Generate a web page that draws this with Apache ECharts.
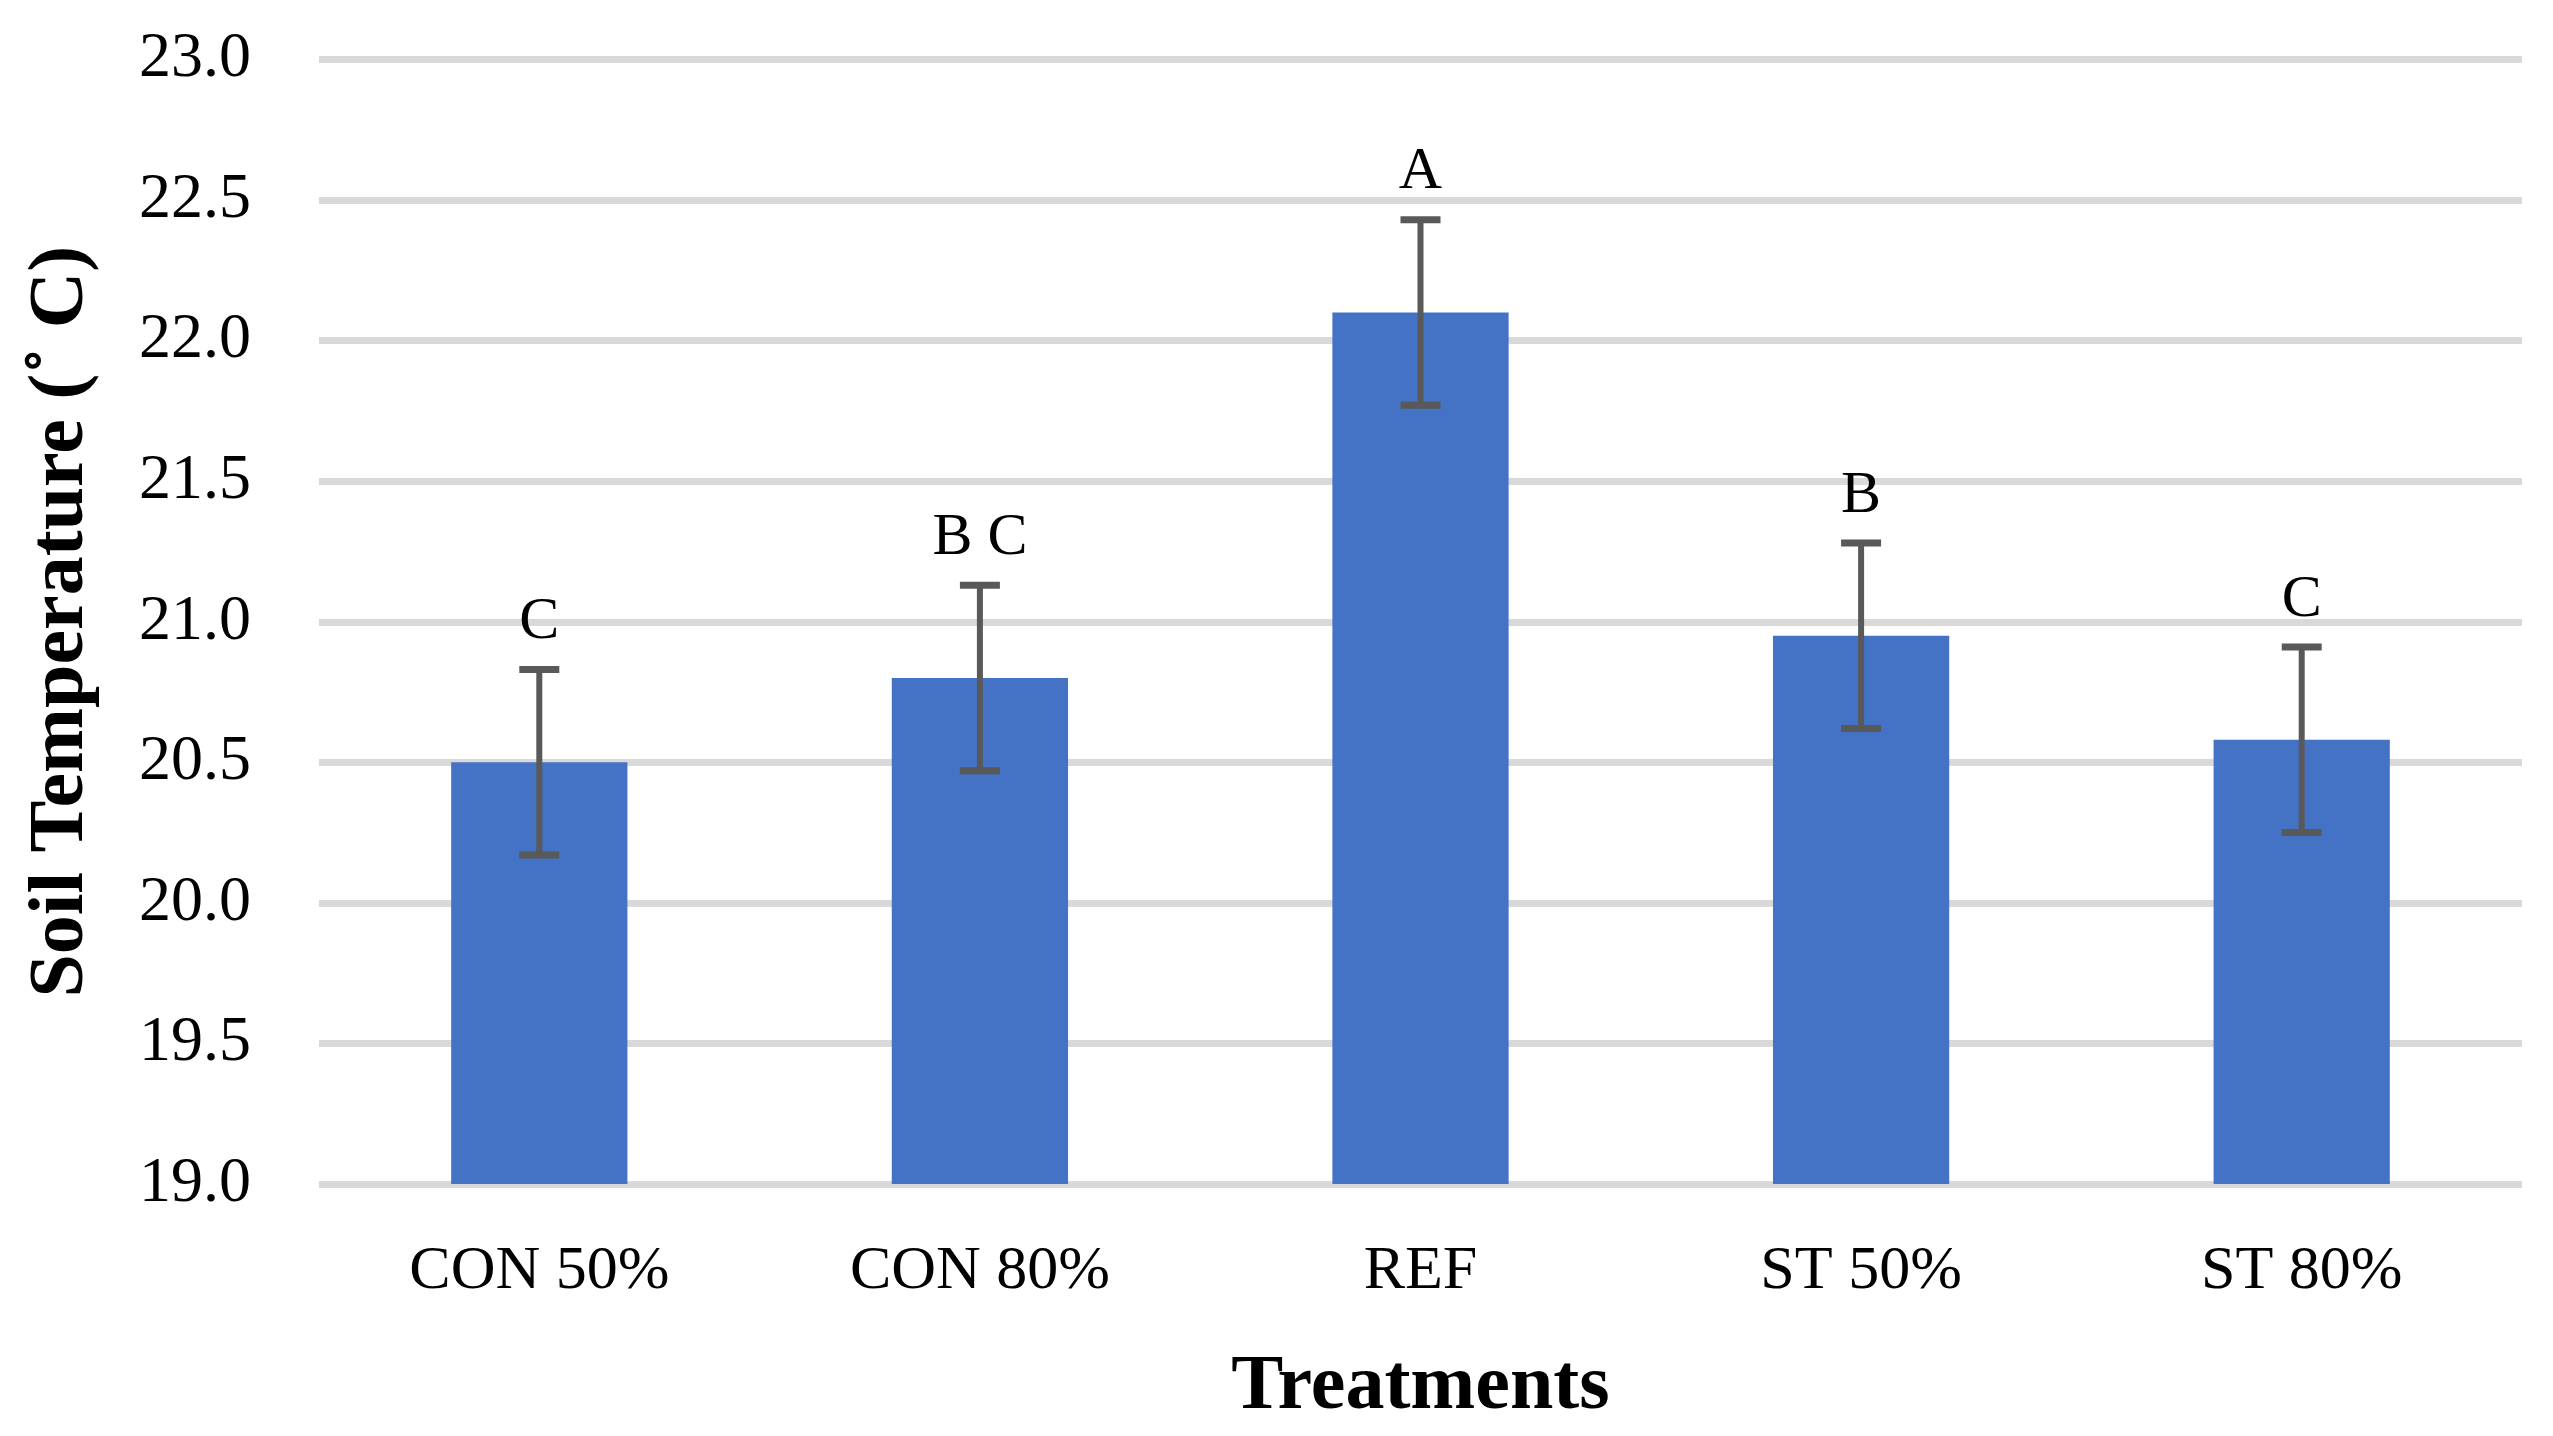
<!DOCTYPE html>
<html>
<head>
<meta charset="utf-8">
<script src="https://cdn.jsdelivr.net/npm/echarts@6/dist/echarts.min.js"></script>
<style>
  html, body { margin: 0; padding: 0; background: #fff; }
  #chart { width: 2553px; height: 1436px; }
</style>
</head>
<body>
<div id="chart"></div>
<script>
// treatments on the x axis
var categories = ['CON 50%', 'CON 80%', 'REF', 'ST 50%', 'ST 80%'];
// mean soil temperature (deg C)
var means = [20.50, 20.80, 22.10, 20.95, 20.58];
// error bar half length
var errors = [0.33, 0.33, 0.33, 0.33, 0.33];
// significance letters
var letters = ['C', 'B C', 'A', 'B', 'C'];

var FONT = '"Liberation Serif", "Times New Roman", serif';

var errData = [];
for (var i = 0; i < means.length; i++) {
    errData.push([i, means[i] - errors[i], means[i] + errors[i]]);
}
var letterData = [];
for (var j = 0; j < letters.length; j++) {
    letterData.push([j, means[j] + errors[j], letters[j]]);
}

var chart = echarts.init(document.getElementById('chart'));
var option = {
    backgroundColor: '#ffffff',
    animation: false,
    grid: {
        left: 319,
        right: 31,
        top: 59.5,
        bottom: 252,
        containLabel: false
    },
    xAxis: {
        type: 'category',
        data: categories,
        name: 'Treatments',
        nameLocation: 'middle',
        nameGap: 165,
        nameTextStyle: { fontFamily: FONT, fontSize: 78, fontWeight: 'bold', color: '#000' },
        axisLine: { show: false },
        axisTick: { show: false },
        axisLabel: { fontFamily: FONT, fontSize: 62, color: '#000', margin: 57 }
    },
    yAxis: {
        type: 'value',
        min: 19,
        max: 23,
        interval: 0.5,
        name: 'Soil Temperature (˚ C)',
        nameLocation: 'middle',
        nameGap: 218,
        nameRotate: 90,
        nameTextStyle: { fontFamily: FONT, fontSize: 78, fontWeight: 'bold', color: '#000' },
        axisLine: { show: false },
        axisTick: { show: false },
        axisLabel: {
            fontFamily: FONT, fontSize: 64, color: '#000', margin: 68,
            formatter: function(v) { return v.toFixed(1); }
        },
        splitLine: { lineStyle: { color: '#d9d9d9', width: 7 } }
    },
    series: [{
        type: 'bar',
        data: means,
        barWidth: '40%',
        itemStyle: { color: '#4472C4' },
        z: 2
    }, {
        // error bars
        type: 'custom',
        data: errData,
        z: 3,
        renderItem: function(params, api) {
            var x = api.value(0);
            var lo = api.coord([x, api.value(1)]);
            var hi = api.coord([x, api.value(2)]);
            var half = 20;
            var st = { stroke: '#595959', lineWidth: 6 };
            var cap = { stroke: '#595959', lineWidth: 7 };
            return {
                type: 'group',
                children: [
                    { type: 'line', shape: { x1: hi[0], y1: hi[1], x2: lo[0], y2: lo[1] }, style: st },
                    { type: 'line', shape: { x1: hi[0] - half, y1: hi[1], x2: hi[0] + half, y2: hi[1] }, style: cap },
                    { type: 'line', shape: { x1: lo[0] - half, y1: lo[1], x2: lo[0] + half, y2: lo[1] }, style: cap }
                ]
            };
        }
    }, {
        // letters above error bars
        type: 'custom',
        data: letterData,
        z: 4,
        renderItem: function(params, api) {
            var p = api.coord([api.value(0), api.value(1)]);
            return {
                type: 'text',
                x: p[0],
                y: p[1] - 17,
                style: {
                    text: letterData[params.dataIndex][2],
                    font: '60px ' + FONT,
                    fill: '#000',
                    textAlign: 'center',
                    textVerticalAlign: 'bottom'
                }
            };
        }
    }]
};
chart.setOption(option);
</script>
</body>
</html>
